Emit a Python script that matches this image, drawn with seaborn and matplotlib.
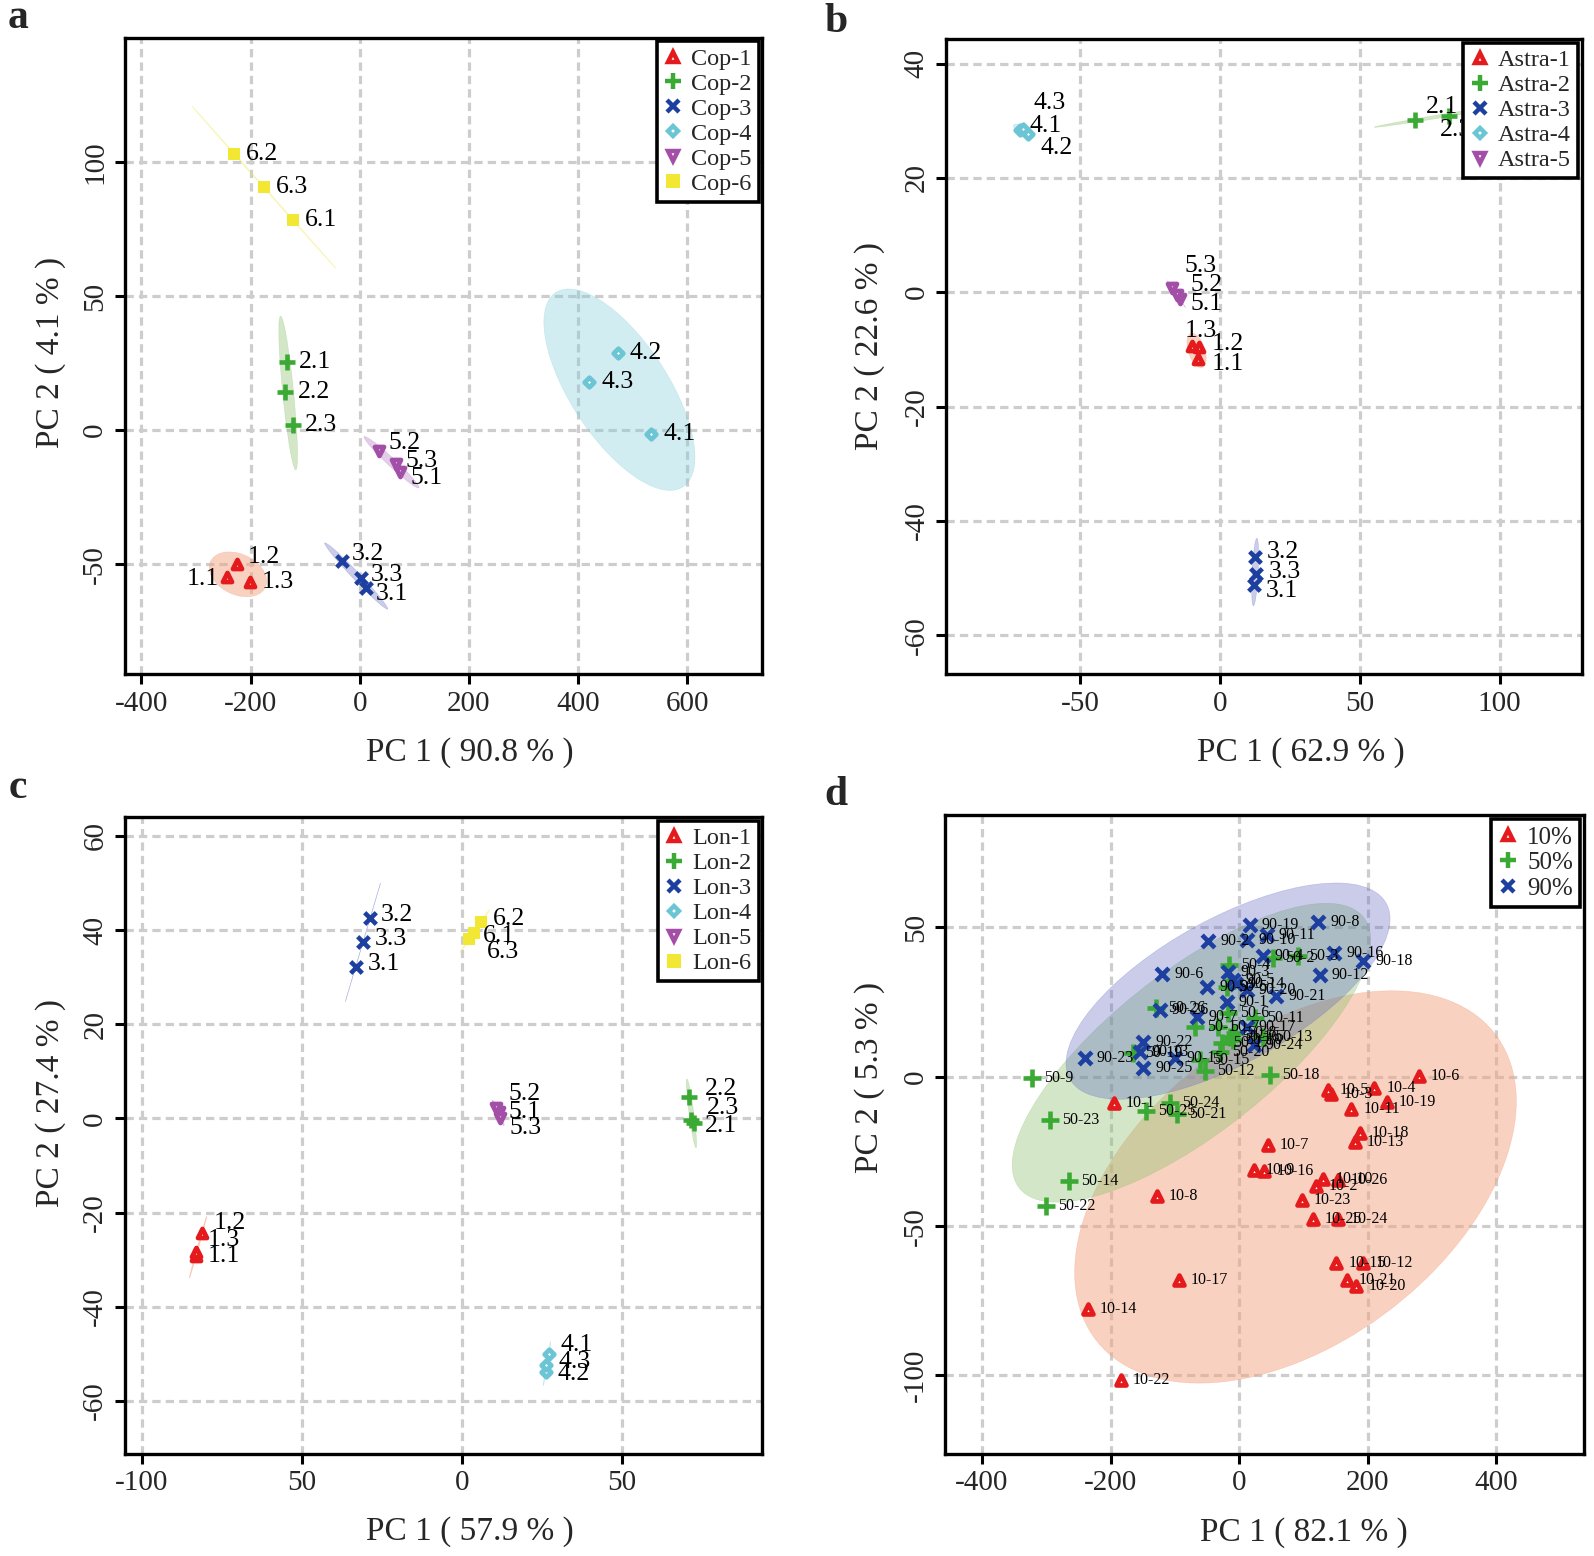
import numpy as np
import pandas as pd
import matplotlib
matplotlib.use("Agg")
import matplotlib.pyplot as plt
import seaborn as sns
from matplotlib.patches import Ellipse
from matplotlib.lines import Line2D

sns.set_style("white")
plt.rcParams['font.family'] = ['Liberation Serif', 'DejaVu Serif']
plt.rcParams['axes.unicode_minus'] = False

# ---------------- data ----------------
# panel a (Cop)
A_LABELS = ["1.1", "1.2", "1.3", "2.1", "2.2", "2.3", "3.1", "3.2", "3.3",
            "4.1", "4.2", "4.3", "5.1", "5.2", "5.3", "6.1", "6.2", "6.3"]
A_PC1 = [-244, -224, -201, -134, -136, -123, 12, -33, 2,
         534, 473, 421, 74, 35, 66, -122, -230, -175]
A_PC2 = [-54.8, -50.0, -56.6, 25.3, 14.4, 1.9, -59.0, -49.0, -55.3,
         -1.5, 28.8, 18.0, -15.6, -7.8, -12.5, 78.3, 103.1, 90.7]
A_NAMES = ["Cop-1", "Cop-2", "Cop-3", "Cop-4", "Cop-5", "Cop-6"]

# panel b (Astra)
B_LABELS = ["1.1", "1.2", "1.3", "2.1", "2.2", "2.3", "3.1", "3.2", "3.3",
            "4.1", "4.2", "4.3", "5.1", "5.2", "5.3"]
B_PC1 = [-7.7, -7.3, -9.9, 69.7, 90.4, 81.9, 12.1, 12.7, 13.1,
         -71.5, -68.5, -70.2, -14.3, -15.3, -17.0]
B_PC2 = [-11.6, -9.6, -9.4, 30.1, 31.8, 30.9, -51.2, -46.4, -49.3,
         28.3, 27.6, 28.6, -1.2, -0.5, 0.7]
B_NAMES = ["Astra-1", "Astra-2", "Astra-3", "Astra-4", "Astra-5"]

# panel c (Lon)
C_LABELS = ["1.1", "1.2", "1.3", "2.1", "2.2", "2.3", "3.1", "3.2", "3.3",
            "4.1", "4.2", "4.3", "5.1", "5.2", "5.3", "6.1", "6.2", "6.3"]
C_PC1 = [-83.2, -81.2, -83.0, 72.4, 71.1, 71.7, -33.2, -28.7, -30.9,
         27.1, 26.2, 26.4, 11.5, 10.5, 12.0, 3.8, 6.0, 2.2]
C_PC2 = [-29.3, -24.3, -28.4, -0.9, 4.5, -0.4, 32.2, 42.5, 37.5,
         -50.0, -53.8, -52.4, 1.3, 2.2, 0.0, 39.4, 41.8, 38.1]
C_NAMES = ["Lon-1", "Lon-2", "Lon-3", "Lon-4", "Lon-5", "Lon-6"]
C_XTICKLABELS = ["-100", "50", "0", "50"]

# panel d (10%, 50%, 90%)
D10_PC1 = [-195, 120, 143.5, 210, 138, 279, 45, -128.5, 22.8, 130.6, 174.6, 193, 180,
           -235, 151, 38.9, -94, 187.6, 230, 182, 167, -184, 96.9, 153.9, 115, 153.9]
D10_PC2 = [-8.8, -36.5, -5.9, -3.7, -4.4, 0.2, -22.7, -39.8, -31.3, -34.3, -10.8, -62.3, -21.9,
           -77.6, -62.3, -31.5, -67.9, -18.8, -8.6, -70.0, -68.1, -101.4, -41.2, -47.8, -47.6, -34.6]
D50_PC1 = [-68.9, 52.8, 90.7, -15.5, -19.7, -17.1, -32.6, -6.7, -322.8, -9.3, 24.4, -53.4, 37.3,
           -264, -61.1, -14.5, -27.5, 47.7, -164.8, -30.0, -97.4, -301, -294, -107.8, -145.6, -129.5]
D50_PC2 = [16.7, 39.6, 40.4, 37.4, 30.1, 21.2, 16.7, 14.5, -0.3, 12.3, 19.5, 2.0, 13.4,
           -34.8, 5.6, 13.4, 11.2, 0.6, 7.8, 8.4, -12.4, -43.4, -14.4, -8.8, -11.6, 23.1]
D90_PC1 = [-19.7, -48.2, -17.1, 36.3, -9.3, -119.7, -66.3, 122.8, -49.7, 11.4, 42.5, 125.4, -154.4,
           -5.0, -100, 147.7, 11.4, 192.7, 16.6, 11.4, 58.0, -149.2, -239.9, 22.8, -149.2, -123.3]
D90_PC2 = [25.1, 45.4, 35.2, 40.4, 32.4, 34.4, 20.1, 51.9, 29.9, 45.8, 47.4, 34.0, 8.4,
           31.0, 6.1, 41.5, 16.7, 38.7, 50.8, 29.0, 27.0, 11.7, 6.1, 10.6, 2.8, 22.3]
D_NAMES = ["10%", "50%", "90%"]
D_PREFIX = ["10", "50", "90"]

# ---------------- styles ----------------
MARKERS = {1: '^', 2: '+', 3: 'x', 4: 'D', 5: 'v', 6: 's'}
COLORS = {1: '#E41A1C', 2: '#3BAA34', 3: '#1C3FA0', 4: '#6CC5D5', 5: '#A34FA8', 6: '#F2E733'}
OPEN = {1, 4, 5}
SIZES = {1: 42, 2: 130, 3: 70, 4: 24, 5: 42, 6: 75}
FILL = {1: ('#F4A582', 0.5), 2: ('#8DC26F', 0.38), 3: ('#5A62C0', 0.32),
        4: ('#7FCDD9', 0.35), 5: ('#B070C0', 0.35), 6: ('#F0E840', 0.3)}
K95 = np.sqrt(-2 * np.log(0.05))

A_OFF = {"1.1": (-8, -2, 'right'), "1.2": (10, 7), "3.2": (10, 7), "3.3": (10, 3),
         "3.1": (10, -6), "5.2": (10, 8), "5.3": (10, 3), "5.1": (10, -6)}
B_OFF = {"4.3": (10, 26), "4.1": (10, 4), "4.2": (12, -14), "5.3": (12, 22), "5.2": (14, 10),
         "5.1": (11, -5), "1.3": (-7, 15), "1.2": (12, 3), "1.1": (13, -5), "3.2": (11, 5),
         "3.3": (12, 2), "3.1": (12, -6), "2.1": (11, 13), "2.3": (-9, -14)}
C_OFF = {"3.2": (11, 3), "3.3": (12, 3), "3.1": (12, 3), "6.2": (12, 3), "6.1": (9, -3),
         "6.3": (18, -13), "5.2": (13, 14), "5.1": (10, 0), "5.3": (9, -10), "2.2": (15, 8),
         "2.3": (16, 12), "2.1": (11, -3), "1.2": (12, 10), "1.3": (11, 12), "1.1": (12, 0),
         "4.1": (12, 9), "4.3": (12, 3), "4.2": (12, -2)}


def conf_ellipse(ax, x, y, color, alpha):
    cov = np.cov(x, y)
    vals, vecs = np.linalg.eigh(cov)
    order = vals.argsort()[::-1]
    vals, vecs = vals[order], vecs[:, order]
    angle = np.degrees(np.arctan2(vecs[1, 0], vecs[0, 0]))
    w, h = 2 * K95 * np.sqrt(np.maximum(vals, 0))
    e = Ellipse((np.mean(x), np.mean(y)), w, h, angle=angle, facecolor=color,
                alpha=alpha, edgecolor=color, linewidth=0.4, zorder=1)
    ax.add_patch(e)


def panel(ax, labels, pc1, pc2, gid, names, xlim, ylim, xticks, yticks, xlabel, ylabel,
          offsets, lab_fs, xlab_pos, ylab_pos, scale=1.0, xticklabels=None,
          default_off=(12, 0), leg_fs=17.5):
    df = pd.DataFrame({"label": labels, "PC1": pc1, "PC2": pc2, "g": gid})
    ax.set_xlim(*xlim)
    ax.set_ylim(*ylim)
    ax.set_axisbelow(True)
    ax.grid(True, color='#CDCDCD', linestyle=(0, (2.6, 1.6)), linewidth=2.3, zorder=0)
    for g, sub in df.groupby("g", sort=True):
        col, al = FILL[g]
        conf_ellipse(ax, sub.PC1.values, sub.PC2.values, col, al)
    for g, sub in df.groupby("g", sort=True):
        c = COLORS[g]
        m = MARKERS[g]
        kw = dict(marker=m, s=SIZES[g] * scale, color=c, zorder=3, legend=False)
        if g in OPEN:
            kw.update(facecolor='white', edgecolor=c, linewidth=3.4)
        elif m in ('+', 'x'):
            kw.update(edgecolor=None, linewidth=3.3)
        else:
            kw.update(edgecolor='none', linewidth=0)
        sns.scatterplot(data=sub, x="PC1", y="PC2", ax=ax, **kw)
    for _, r in df.iterrows():
        o = offsets.get(r.label, default_off)
        ha = o[2] if len(o) > 2 else 'left'
        ax.annotate(r.label, (r.PC1, r.PC2), xytext=(o[0], o[1]), textcoords='offset pixels',
                    ha=ha, va='center', fontsize=lab_fs, zorder=4, color='black')
    ax.set_xticks(xticks)
    if xticklabels is not None:
        ax.set_xticklabels(xticklabels)
    ax.set_yticks(yticks)
    ax.set_xlabel(xlabel, fontsize=24)
    ax.set_ylabel(ylabel, fontsize=24)
    ax.xaxis.label.set_va('center')
    ax.yaxis.label.set_va('center')
    ax.xaxis.set_label_coords(*xlab_pos)
    ax.yaxis.set_label_coords(*ylab_pos)
    ax.tick_params(bottom=True, left=True, direction='out', length=7, width=2.2,
                   labelsize=21, pad=5, color='black')
    for t in ax.get_yticklabels():
        t.set_rotation(90)
        t.set_va('center')
    for s in ax.spines.values():
        s.set_visible(True)
        s.set_color('black')
        s.set_linewidth(2.4)
    handles = []
    for i, nm in enumerate(names):
        g = i + 1
        open_ = g in OPEN
        ms = {1: 7, 2: 12, 3: 9, 4: 5.5, 5: 7, 6: 9.5}[g]
        handles.append(Line2D([], [], linestyle='none', marker=MARKERS[g], color=COLORS[g],
                              markersize=ms, markerfacecolor='white' if open_ else COLORS[g],
                              markeredgecolor=COLORS[g],
                              markeredgewidth=(3.2 if MARKERS[g] != 's' else 0), label=nm))
    leg = ax.legend(handles=handles, loc='upper right', bbox_to_anchor=(1, 1),
                    borderaxespad=0.15, frameon=True, fancybox=False, framealpha=1,
                    edgecolor='black', fontsize=leg_fs, handlelength=0.8, handletextpad=0.35,
                    labelspacing=0.12, borderpad=0.28)
    leg.get_frame().set_linewidth(2.6)
    leg.set_zorder(6)


fig = plt.figure(figsize=(15.94, 15.56), dpi=100)
W, H = 1594, 1556


def rect(l, r, t, b):
    return [l / W, 1 - b / H, (r - l) / W, (b - t) / H]


axa = fig.add_axes(rect(125, 762.4, 37.6, 674))
axb = fig.add_axes(rect(946.3, 1581.7, 39, 674))
axc = fig.add_axes(rect(125, 762.4, 817, 1453.7))
axd = fig.add_axes(rect(945.4, 1583.8, 815.3, 1453.7))

grp = lambda labs: [int(s.split('.')[0]) for s in labs]

panel(axa, A_LABELS, A_PC1, A_PC2, grp(A_LABELS), A_NAMES, (-430, 738), (-91, 146.5),
      [-400, -200, 0, 200, 400, 600], [-50, 0, 50, 100],
      "PC 1 ( 90.8 % )", "PC 2 ( 4.1 % )", A_OFF, 18.5, (0.541, -0.123), (-0.1164, 0.505))
panel(axb, B_LABELS, B_PC1, B_PC2, grp(B_LABELS), B_NAMES, (-97.7, 129.3), (-66.8, 44.3),
      [-50, 0, 50, 100], [-60, -40, -20, 0, 20, 40],
      "PC 1 ( 62.9 % )", "PC 2 ( 22.6 % )", B_OFF, 18.5, (0.5585, -0.123), (-0.1213, 0.517))
panel(axc, C_LABELS, C_PC1, C_PC2, grp(C_LABELS), C_NAMES, (-105.3, 93.9), (-71.2, 64),
      [-100, -50, 0, 50], [-60, -40, -20, 0, 20, 40, 60],
      "PC 1 ( 57.9 % )", "PC 2 ( 27.4 % )", C_OFF, 18.5, (0.541, -0.123), (-0.1164, 0.551),
      xticklabels=C_XTICKLABELS)

d_labels, d_x, d_y, d_g = [], [], [], []
for gi, (pre, xs, ys) in enumerate(zip(D_PREFIX, [D10_PC1, D50_PC1, D90_PC1],
                                        [D10_PC2, D50_PC2, D90_PC2])):
    for j, (xv, yv) in enumerate(zip(xs, ys)):
        d_labels.append(f"{pre}-{j + 1}")
        d_x.append(xv)
        d_y.append(yv)
        d_g.append(gi + 1)
panel(axd, d_labels, d_x, d_y, d_g, D_NAMES, (-457, 536), (-126.2, 87.5),
      [-400, -200, 0, 200, 400], [-100, -50, 0, 50],
      "PC 1 ( 82.1 % )", "PC 2 ( 5.3 % )", {}, 11.5, (0.5622, -0.123), (-0.1194, 0.589),
      scale=1.2, default_off=(12, 0), leg_fs=18)

for txt, (px, py) in zip("abcd", [(18, 18), (836, 22), (18, 788), (836, 795)]):
    fig.text(px / W, 1 - py / H, txt, fontsize=30, fontweight='bold', ha='center', va='center')

fig.savefig("out.png", dpi=100)
